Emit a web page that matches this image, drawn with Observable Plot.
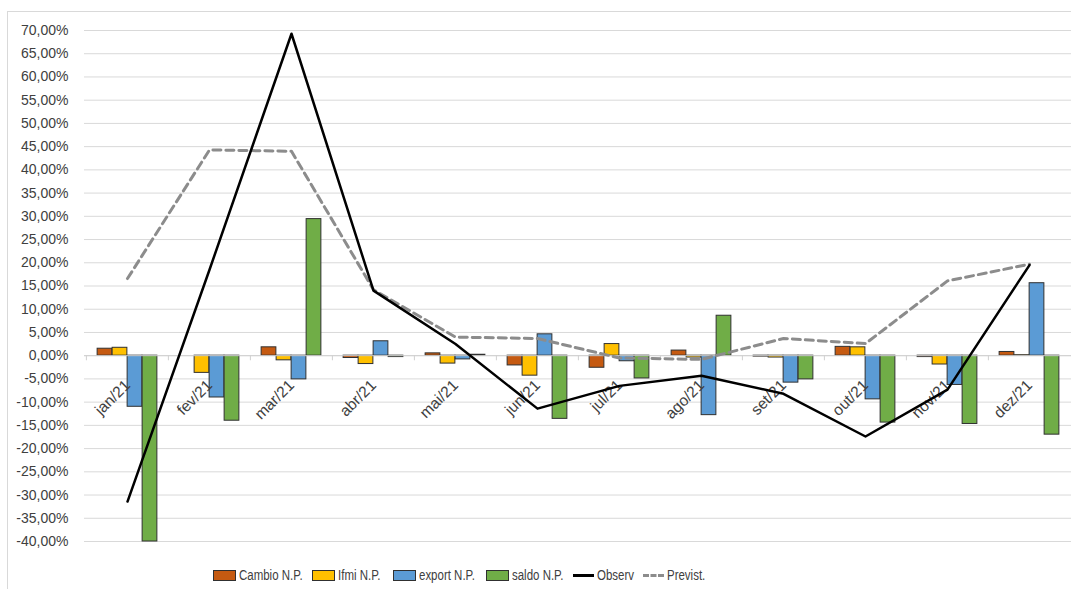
<!DOCTYPE html>
<html>
<head>
<meta charset="utf-8">
<script src="https://cdn.jsdelivr.net/npm/d3@7"></script>
<script src="https://cdn.jsdelivr.net/npm/@observablehq/plot@0.6"></script>
<style>
  html, body { margin: 0; padding: 0; background: #fff; }
  #wrap { position: relative; width: 1071px; height: 589px; overflow: hidden; }
  #frame { position: absolute; left: 7px; top: 11px; width: 1080px; height: 590px; border: 1px solid #d9d9d9; box-sizing: border-box; }
  #chart { position: absolute; left: 0; top: 0; }
  #legend { position: absolute; left: 0; top: 566px; width: 1071px; height: 18px; font-family: "Liberation Sans", Arial, sans-serif; font-size: 14px; color: #404040; }
  .item { position: absolute; top: 0; height: 18px; display: flex; align-items: center; white-space: nowrap; }
  .sw { width: 21px; height: 9px; border: 1px solid #303030; margin-right: 3px; box-sizing: content-box; flex: none; }
  .ln { width: 21px; height: 0; margin-right: 3px; flex: none; }
  .lbl { display: inline-block; transform: scaleX(0.82); transform-origin: left center; }
</style>
</head>
<body>
<div id="wrap">
  <div id="frame"></div>
  <div id="chart"></div>
  <div id="legend"></div>
</div>
<script>
// ---- data ----
const months  = ["jan/21","fev/21","mar/21","abr/21","mai/21","jun/21","jul/21","ago/21","set/21","out/21","nov/21","dez/21"];
const cambio  = [1.5, 0.0, 1.8, -0.5, 0.5, -2.1, -2.6, 1.1, -0.2, 1.9, -0.3, 0.8];
const ifmi    = [1.7, -3.7, -1.0, -1.8, -1.7, -4.3, 2.5, -0.4, -0.4, 1.8, -1.9, 0.1];
const exportNP= [-11.0, -9.0, -5.1, 3.1, -0.8, 4.6, -1.2, -12.8, -5.8, -9.4, -6.3, 15.6];
const saldo   = [-40.0, -14.0, 29.4, -0.3, 0.2, -13.6, -4.9, 8.6, -5.1, -14.4, -14.7, -17.0];
const observ  = [-31.4, 18.5, 69.3, 14.0, 2.5, -11.4, -6.5, -4.3, -8.2, -17.4, -7.3, 19.5];
const previst = [16.6, 44.3, 44.0, 14.2, 4.0, 3.7, -0.5, -0.8, 3.7, 2.6, 16.1, 19.7];
const yTicks  = [-40,-35,-30,-25,-20,-15,-10,-5,0,5,10,15,20,25,30,35,40,45,50,55,60,65,70];

const seriesNames  = ["Cambio N.P.", "Ifmi N.P.", "export N.P.", "saldo N.P."];
const seriesValues = [cambio, ifmi, exportNP, saldo];
const seriesColors = ["#c55a11", "#ffc000", "#5b9bd5", "#70ad47"];

// ---- layout ----
const W = 1071, H = 555;
const mL = 84, mR = 0, mT = 30, mB = 14;
const bw = (W - mL - mR) / months.length;
const barW = 15;
const groupOff = (bw - barW * 4) / 2;

const fmt = d => d.toFixed(2).replace(".", ",") + "%";

const barMarks = seriesValues.map((vals, i) =>
  Plot.barY(months.map((m, j) => ({month: m, v: vals[j]})), {
    x: "month", y: "v",
    fill: seriesColors[i], stroke: "#303030", strokeWidth: 1,
    insetLeft: groupOff + barW * i,
    insetRight: bw - groupOff - barW * (i + 1)
  })
);

const obsData = months.map((m, j) => ({month: m, v: observ[j]}));
const prevData = months.map((m, j) => ({month: m, v: previst[j]}));

const chart = Plot.plot({
  width: W, height: H,
  marginLeft: mL, marginRight: mR, marginTop: mT, marginBottom: mB,
  x: {domain: months, padding: 0, axis: null},
  y: {domain: [-40, 70], axis: null},
  style: {fontFamily: "'Liberation Sans', Arial, sans-serif", fontSize: "14px", color: "#404040", background: "transparent", overflow: "visible"},
  marks: [
    Plot.ruleY(yTicks, {stroke: "#d9d9d9", strokeWidth: 1}),
    Plot.axisY({ticks: yTicks, tickSize: 0, tickPadding: 16, tickFormat: fmt, fontSize: 14, fill: "#404040", label: null}),
    ...barMarks,
    Plot.ruleY([0], {stroke: "#d0d0d0", strokeWidth: 1}),
    Plot.ruleX(months, {x: d => d, dx: -bw / 2, y1: 0, y2: -1.1, stroke: "#d0d0d0"}),
    Plot.text(months, {x: d => d, y: 0, text: d => d, rotate: -45, textAnchor: "end", dy: 27, dx: 0, fontSize: 15.5, fill: "#404040"}),
    Plot.line(prevData, {x: "month", y: "v", stroke: "#8c8c8c", strokeWidth: 3, strokeDasharray: "8,5"}),
    Plot.line(obsData, {x: "month", y: "v", stroke: "#000", strokeWidth: 2.5})
  ]
});
document.getElementById("chart").appendChild(chart);

// ---- legend ----
const legend = document.getElementById("legend");
const legendItems = [
  {label: seriesNames[0], type: "sw", color: seriesColors[0], left: 213},
  {label: seriesNames[1], type: "sw", color: seriesColors[1], left: 312},
  {label: seriesNames[2], type: "sw", color: seriesColors[2], left: 393},
  {label: seriesNames[3], type: "sw", color: seriesColors[3], left: 486},
  {label: "Observ", type: "line", color: "#000", left: 573},
  {label: "Previst.", type: "dash", color: "#8c8c8c", left: 643}
];
legendItems.forEach(it => {
  const d = document.createElement("div");
  d.className = "item";
  d.style.left = it.left + "px";
  const s = document.createElement("div");
  if (it.type === "sw") {
    s.className = "sw";
    s.style.background = it.color;
  } else {
    s.className = "ln";
    s.style.borderTop = it.type === "line" ? `3px solid ${it.color}` : `3px dashed ${it.color}`;
  }
  d.appendChild(s);
  const t = document.createElement("span");
  t.className = "lbl";
  t.textContent = it.label;
  d.appendChild(t);
  legend.appendChild(d);
});
</script>
</body>
</html>
